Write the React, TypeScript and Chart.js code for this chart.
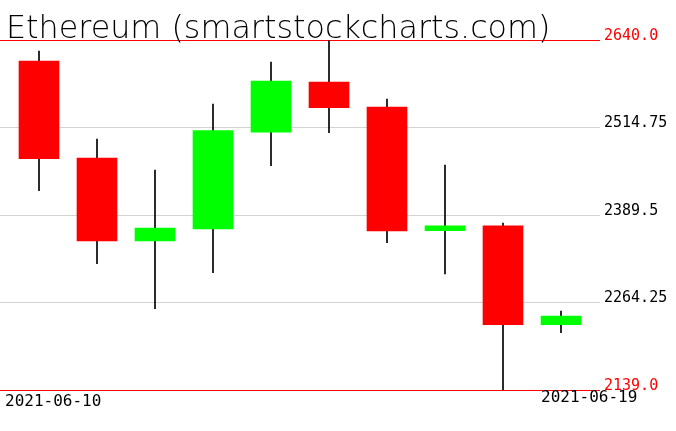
import React, { useEffect, useRef } from "react";
import { Chart, registerables } from "chart.js";

Chart.register(...registerables);

const titleText = "Ethereum (smartstockcharts.com)";
const dates = [
  "2021-06-10", "2021-06-11", "2021-06-12", "2021-06-13", "2021-06-14",
  "2021-06-15", "2021-06-16", "2021-06-17", "2021-06-18", "2021-06-19",
];
const opens = [2609.9, 2471.1, 2352.3, 2369.5, 2508.0, 2579.9, 2544.1, 2367.0, 2373.9, 2232.5];
const highs = [2624.3, 2498.3, 2453.9, 2548.4, 2608.5, 2639.0, 2555.5, 2461.1, 2378.1, 2252.1];
const lows = [2424.3, 2319.8, 2255.4, 2306.9, 2460.1, 2507.3, 2349.9, 2305.3, 2139.0, 2221.0];
const closes = [2470.1, 2352.3, 2370.9, 2510.2, 2581.3, 2543.1, 2366.6, 2373.9, 2232.5, 2244.9];
const yTicks = [2139.0, 2264.25, 2389.5, 2514.75, 2640.0];
const yTickLabels = ["2139.0", "2264.25", "2389.5", "2514.75", "2640.0"];
const shownDates = [dates[0], dates[dates.length - 1]];

const UP = "#00ff00";
const DOWN = "#ff0000";

const overlayPlugin = {
  id: "overlay",
  afterDraw(chart: any) {
    const ctx = chart.ctx;
    const area = chart.chartArea;
    const xs = chart.scales.x;
    ctx.save();
    ctx.fillStyle = "#000";
    ctx.textBaseline = "alphabetic";
    ctx.textAlign = "left";
    ctx.font = "200 31.8px 'DejaVu Sans'";
    ctx.fillText(titleText, 6, 38);
    ctx.font = "16px 'DejaVu Sans Mono'";
    ctx.textBaseline = "top";
    ctx.fillText(shownDates[0], area.left + 5, area.bottom + 4);
    const lastX = xs.getPixelForValue(dates.length - 1) - 20;
    ctx.fillText(shownDates[1], lastX, area.bottom + 0);
    ctx.restore();
  },
};

export default function App() {
  const ref = useRef<HTMLCanvasElement>(null);
  useEffect(() => {
    document.body.style.margin = "0";
    const idx = dates.map((_, i) => i);
    const colors = idx.map((i) => (closes[i] >= opens[i] ? UP : DOWN));
    const chart = new Chart(ref.current!, {
      type: "bar",
      data: {
        datasets: [
          {
            label: "body",
            data: idx.map((i) => ({ x: i, y: [opens[i], closes[i]] })) as any,
            backgroundColor: colors,
            borderWidth: 0,
            barThickness: 40,
            grouped: false,
            order: 1,
          },
          {
            label: "wick",
            data: idx.map((i) => ({ x: i, y: [lows[i], highs[i]] })) as any,
            backgroundColor: "#000",
            borderWidth: 0,
            barThickness: 1,
            grouped: false,
            order: 2,
          },
        ],
      },
      options: {
        responsive: false,
        animation: false,
        layout: { padding: { top: 40, bottom: 41, left: 0, right: 0 } },
        plugins: {
          legend: { display: false },
          tooltip: { enabled: false },
          title: { display: false },
        },
        scales: {
          x: {
            type: "linear",
            min: -0.6724,
            max: 9.6724,
            offset: false,
            display: false,
          },
          y: {
            position: "right",
            min: 2139,
            max: 2640,
            z: 1,
            border: { display: false },
            grid: {
              drawTicks: false,
              color: (c: any) =>
                c.tick && (c.tick.value === 2640 || c.tick.value === 2139) ? "#ff0000" : "#d3d3d3",
              lineWidth: 1,
            },
            afterBuildTicks: (s: any) => {
              s.ticks = yTicks.map((v) => ({ value: v }));
            },
            afterFit: (s: any) => {
              s.width = 76;
            },
            ticks: {
              padding: 4,
              labelOffset: -4,
              autoSkip: false,
              font: { family: "'DejaVu Sans Mono'", size: 15 },
              color: (c: any) =>
                c.tick && (c.tick.value === 2640 || c.tick.value === 2139) ? "#ff0000" : "#000",
              callback: (v: any) => {
                const k = yTicks.indexOf(Number(v));
                return k >= 0 ? yTickLabels[k] : "";
              },
            },
          },
        },
      },
      plugins: [overlayPlugin],
    });
    return () => chart.destroy();
  }, []);
  return (
    <div style={{ position: "absolute", left: 0, top: 0, width: 676, height: 431, background: "#fff" }}>
      <canvas ref={ref} width={676} height={431} style={{ display: "block" }} />
    </div>
  );
}
